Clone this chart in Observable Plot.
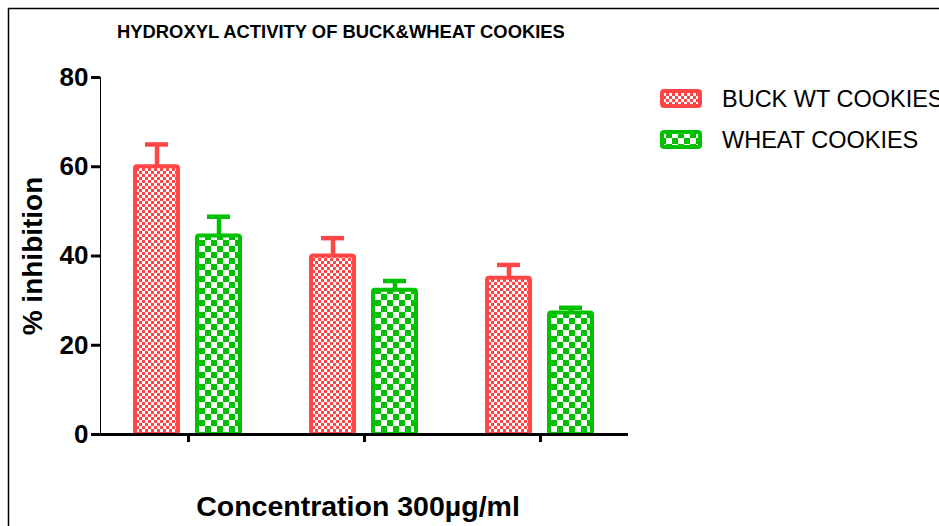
<!DOCTYPE html>
<html>
<head>
<meta charset="utf-8">
<script src="https://cdn.jsdelivr.net/npm/d3@7"></script>
<script src="https://cdn.jsdelivr.net/npm/@observablehq/plot@0.6"></script>
<style>
  html, body { margin: 0; padding: 0; background: #fff; overflow: hidden; }
  #chart svg g[aria-label^="y-axis"] path,
  #chart svg g[aria-label^="y-axis"] line,
  #chart svg g[aria-label^="fx-axis"] path,
  #chart svg g[aria-label^="fx-axis"] line { stroke-width: 3px; stroke: #000; }
</style>
</head>
<body>
<div id="chart"></div>
<script>
// ---- data ----
const groups = ["300 µg/ml A", "300 µg/ml B", "300 µg/ml C"];
const seriesNames = ["BUCK WT COOKIES", "WHEAT COOKIES"];
const buckValues = [60, 40, 35];
const buckErrors = [5, 4, 3];
const wheatValues = [44.5, 32.3, 27.2];
const wheatErrors = [4.3, 2.1, 1.2];
const yTicks = [0, 20, 40, 60, 80];
const titleText = "HYDROXYL ACTIVITY OF BUCK&WHEAT COOKIES";
const yLabel = "% inhibition";
const xLabel = "Concentration 300µg/ml";

const seriesColors = ["#ff4545", "#00c000"];
const seriesPatterns = ["url(#buckPattern)", "url(#wheatPattern)"];

const rows = groups.flatMap((g, i) => [
  {group: g, series: seriesNames[0], value: buckValues[i], err: buckErrors[i]},
  {group: g, series: seriesNames[1], value: wheatValues[i], err: wheatErrors[i]}
]);

const marks = [];
seriesNames.forEach((s, k) => {
  const only = d => d.series === s;
  marks.push(Plot.ruleX(rows, {filter: only, x: "series", y1: "value", y2: d => d.value + d.err,
    stroke: seriesColors[k], strokeWidth: 4.5}));
  marks.push(Plot.tickY(rows, {filter: only, x: "series", y: d => d.value + d.err,
    stroke: seriesColors[k], strokeWidth: 4.5, insetLeft: 10, insetRight: 10}));
  marks.push(Plot.barY(rows, {filter: only, x: "series", y: "value",
    fill: seriesPatterns[k], stroke: seriesColors[k], strokeWidth: 4, rx: 2}));
});
marks.push(Plot.ruleY([0], {stroke: "#000", strokeWidth: 3}));

const plot = Plot.plot({
  width: 939,
  height: 526,
  marginLeft: 99,
  marginRight: 311,
  marginTop: 77,
  marginBottom: 92,
  facet: {data: rows, x: "group"},
  fx: {domain: groups, paddingInner: 0, paddingOuter: 0, axis: "bottom", tickSize: 8,
       tickFormat: () => "", label: null},
  x: {domain: seriesNames, paddingInner: 0.3, paddingOuter: 0.55, axis: null},
  y: {domain: [0, 80], ticks: yTicks, tickSize: 9, tickPadding: 3, label: null, line: true},
  style: {fontFamily: "'Liberation Sans', Arial, sans-serif", fontSize: "26px",
          fontWeight: "bold", color: "#000", background: "#fff"},
  marks
});

document.getElementById("chart").appendChild(plot);

// ---- patterns, title, labels, legend, border ----
const svg = d3.select(plot);
const defs = svg.insert("defs", ":first-child");
function checker(id, color, cell) {
  const p = defs.append("pattern").attr("id", id).attr("patternUnits", "userSpaceOnUse")
    .attr("width", cell * 2).attr("height", cell * 2);
  p.append("rect").attr("width", cell * 2).attr("height", cell * 2).attr("fill", color);
  p.append("rect").attr("width", cell).attr("height", cell).attr("fill", "#fff");
  p.append("rect").attr("x", cell).attr("y", cell).attr("width", cell).attr("height", cell).attr("fill", "#fff");
}
checker("buckPattern", seriesColors[0], 3);
checker("wheatPattern", seriesColors[1], 6);

const font = "'Liberation Sans', Arial, sans-serif";
const ann = svg.append("g").attr("font-family", font).attr("fill", "#000").attr("text-anchor", "start");

// border
ann.append("line").attr("x1", 8).attr("x2", 939).attr("y1", 8.5).attr("y2", 8.5)
  .attr("stroke", "#000").attr("stroke-width", 1.5);
ann.append("line").attr("x1", 8.5).attr("x2", 8.5).attr("y1", 8).attr("y2", 526)
  .attr("stroke", "#000").attr("stroke-width", 1.5);

ann.append("text").attr("x", 117).attr("y", 38).attr("font-size", 18.4).attr("font-weight", "bold")
  .attr("text-anchor", "start").text(titleText);

ann.append("text").attr("transform", "translate(42,256) rotate(-90)")
  .attr("text-anchor", "middle").attr("font-size", 28).attr("font-weight", "bold").text(yLabel);

ann.append("text").attr("x", 358).attr("y", 516).attr("text-anchor", "middle")
  .attr("font-size", 28.5).attr("font-weight", "bold").text(xLabel);

seriesNames.forEach((s, k) => {
  const y0 = 91 + k * 41;
  ann.append("rect").attr("x", 662).attr("y", y0).attr("width", 38).attr("height", 15)
    .attr("rx", 2).attr("fill", seriesPatterns[k]).attr("stroke", seriesColors[k]).attr("stroke-width", 4);
  ann.append("text").attr("x", 722).attr("y", y0 + 16).attr("font-size", 23.5)
    .attr("font-weight", "normal").attr("text-anchor", "start").text(s);
});
</script>
</body>
</html>
